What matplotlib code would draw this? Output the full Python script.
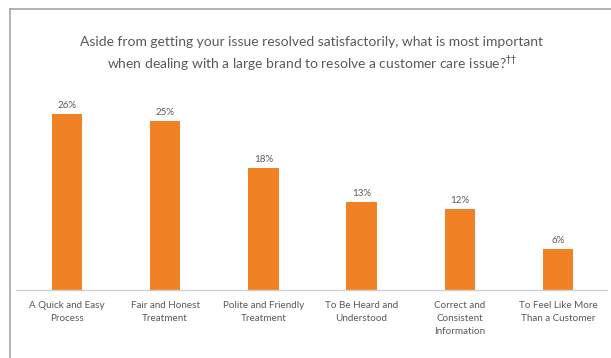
import matplotlib
matplotlib.use("Agg")
import matplotlib.pyplot as plt
from matplotlib.lines import Line2D

categories = [
    "A Quick and Easy\nProcess",
    "Fair and Honest\nTreatment",
    "Polite and Friendly\nTreatment",
    "To Be Heard and\nUnderstood",
    "Correct and\nConsistent\nInformation",
    "To Feel Like More\nThan a Customer",
]
values = [26, 25, 18, 13, 12, 6]

ORANGE = "#f08124"
TEXT = "#595959"
plt.rcParams['font.family'] = ['Lato', 'DejaVu Sans']

fig = plt.figure(figsize=(6.11, 3.58), dpi=100)
fig.patch.set_facecolor('white')

W, H = 611, 358
ax = fig.add_axes([16 / W, 68 / H, 591 / W, 203 / H])
x = list(range(len(values)))
ax.bar(x, values, width=0.31, color=ORANGE)
for xi, v in zip(x, values):
    ax.annotate(f"{v}%", xy=(xi, v), xytext=(0, 3), textcoords='offset points',
                ha='center', va='bottom', fontsize=7.0, color=TEXT)

ax.set_xlim(-0.52, 5.5)
ax.set_ylim(0, 30)
ax.set_yticks([])
ax.set_xticks(x)
ax.set_xticklabels(categories, fontsize=7.1, color=TEXT, linespacing=1.54)
ax.tick_params(axis='x', length=0, pad=8)
for side in ['top', 'right', 'left']:
    ax.spines[side].set_visible(False)
ax.spines['bottom'].set_color('#d0d0d0')
ax.spines['bottom'].set_linewidth(1.0)

fig.text(312 / W, 1 - 55 / H,
         "Aside from getting your issue resolved satisfactorily, what is most important\n"
         "when dealing with a large brand to resolve a customer care issue?$^{\u2020\u2020}$",
         ha='center', va='center', fontsize=10.0, color=TEXT, linespacing=1.3)

# outer frame, cropped at right and bottom
fig.add_artist(Line2D([9.5 / W, 9.5 / W], [0, 1 - 9 / H], transform=fig.transFigure,
                      color='#a6a6a6', lw=1.2))
fig.add_artist(Line2D([9.5 / W, 1], [1 - 9 / H, 1 - 9 / H], transform=fig.transFigure,
                      color='#a6a6a6', lw=1.2))

fig.savefig("out.png", dpi=100)
